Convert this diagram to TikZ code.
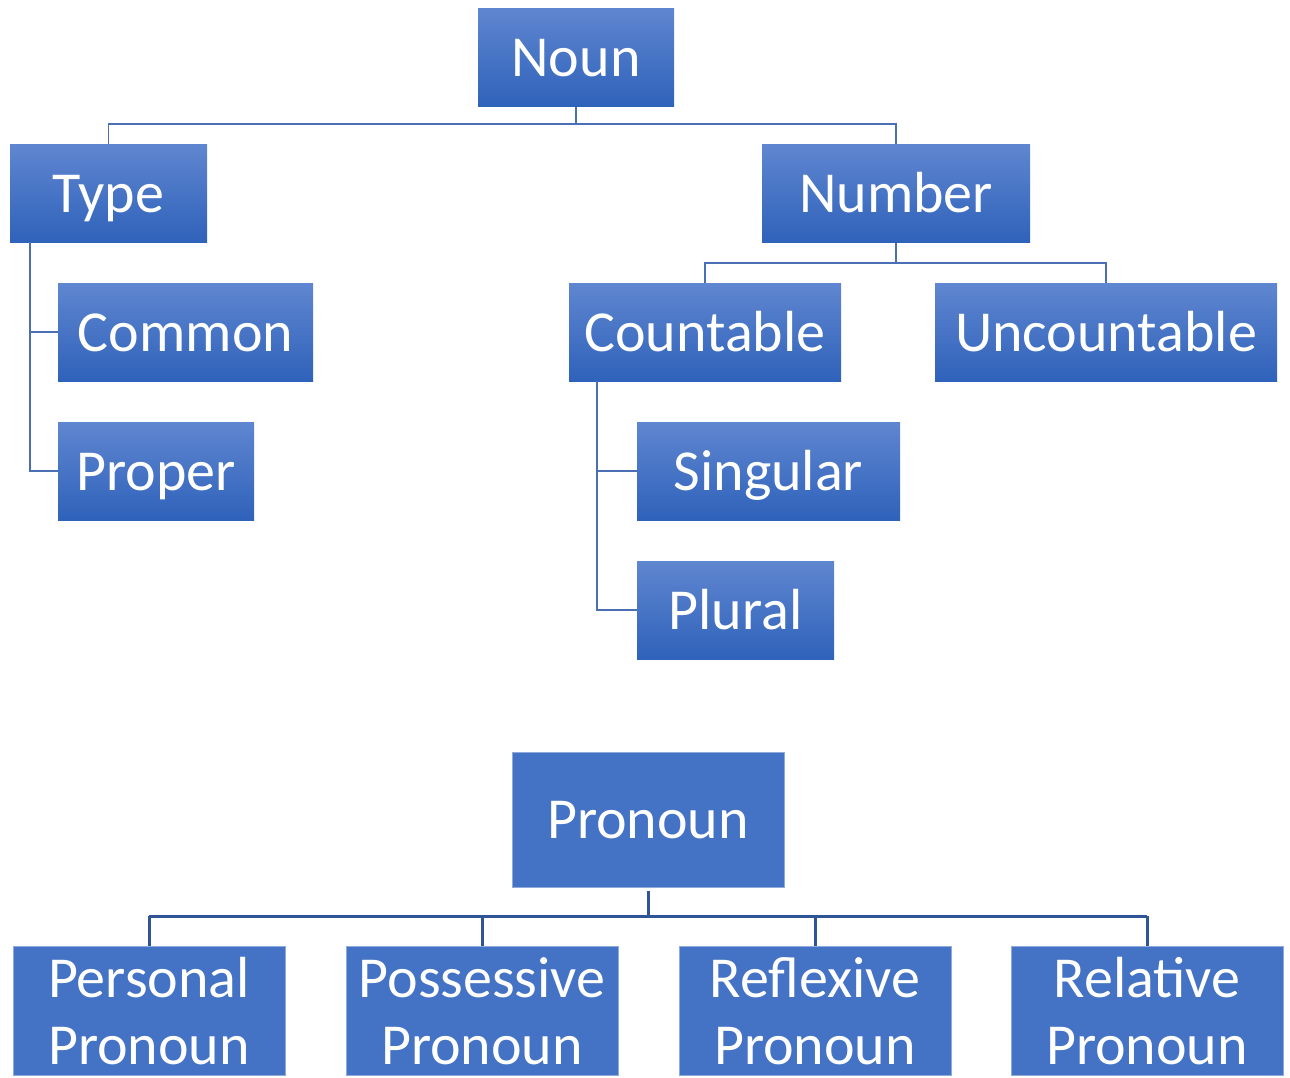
\documentclass[tikz,border=0pt]{standalone}
\usepackage{fontspec}
\setmainfont{Carlito}
\usepackage{tikz}
\usetikzlibrary{positioning,calc}
\definecolor{boxtop}{HTML}{5F86D0}
\definecolor{boxbot}{HTML}{2F62BA}
\definecolor{boxflat}{HTML}{4472C4}
\definecolor{boxedge}{HTML}{8FAADC}
\definecolor{linkblue}{HTML}{4A6FB5}
\definecolor{linkdark}{HTML}{2F5597}
\tikzset{
  shadebox/.style={
    rectangle, top color=boxtop, bottom color=boxbot, draw=none,
    text=white, font=\fontsize{58}{68}\selectfont, align=center,
    inner sep=0pt, text height=38pt, text depth=0pt,
    minimum height=98pt, minimum width=#1
  },
  shadebox/.default=196pt,
  flatbox/.style={
    rectangle, fill=boxflat, draw=boxedge, line width=1pt,
    text=white, font=\fontsize{58}{67}\selectfont, align=center,
    inner sep=0pt, minimum height=#1, minimum width=272pt
  },
  flatbox/.default=129pt,
  link/.style={line width=1.5pt, color=linkblue},
  linkthick/.style={line width=3pt, color=linkdark},
}
\begin{document}
\begin{tikzpicture}[x=1pt,y=-1pt]
  \useasboundingbox (0,0) rectangle (1290,1077);

  % Noun tree
  \node[shadebox] (noun) at (576,57.5) {Noun};
  \node[shadebox=197pt] (type) at (108.5,193.5) {Type};
  \node[shadebox=268pt] (number) at (896,193.5) {Number};
  \node[shadebox=255pt] (common) at (185.5,332) {Common};
  \node[shadebox=196pt] (proper) at (156,471) {Proper};
  \node[shadebox=272pt] (countable) at (705,332) {Countable};
  \node[shadebox=342pt] (uncountable) at (1106,332) {Uncountable};
  \node[shadebox=263pt] (singular) at (768.5,471) {Singular};
  \node[shadebox=197pt] (plural) at (735.5,610) {Plural};

  \coordinate (nounbus) at (576,124);
  \draw[link] (noun.south) -- (nounbus) -| (type.north);
  \draw[link] (nounbus) -| (number.north);

  \coordinate (typetrunk) at (30,242);
  \draw[link] (typetrunk) |- (common.west);
  \draw[link] (typetrunk) |- (proper.west);

  \coordinate (numberbus) at (896,263);
  \draw[link] (number.south) -- (numberbus) -| (countable.north);
  \draw[link] (numberbus) -| (uncountable.north);

  \coordinate (counttrunk) at (597,381);
  \draw[link] (counttrunk) |- (singular.west);
  \draw[link] (counttrunk) |- (plural.west);

  % Pronoun tree
  \node[flatbox=135pt, text height=38pt, text depth=0pt] (pronoun) at (648,819.5) {Pronoun};
  \node[flatbox] (personal) at (149,1011) {Personal\\Pronoun};
  \node[flatbox] (possessive) at (482,1011) {Possessive\\Pronoun};
  \node[flatbox] (reflexive) at (815,1011) {Reflexive\\Pronoun};
  \node[flatbox] (relative) at (1147,1011) {Relative\\Pronoun};

  \coordinate (pronounbus) at (648,916);
  \draw[linkthick] ([yshift=-3pt]pronoun.south) -- (pronounbus);
  \draw[linkthick] (personal.north |- pronounbus) -- (relative.north |- pronounbus);
  \foreach \kid in {personal,possessive,reflexive,relative}
    \draw[linkthick] (\kid.north |- pronounbus) -- (\kid.north);
\end{tikzpicture}
\end{document}
